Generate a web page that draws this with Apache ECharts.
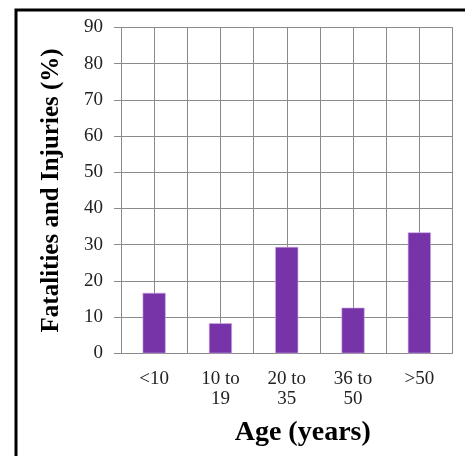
<!DOCTYPE html>
<html>
<head>
<meta charset="utf-8">
<script src="https://cdn.jsdelivr.net/npm/echarts@6/dist/echarts.min.js"></script>
<style>
  html, body { margin: 0; padding: 0; background: #fff; }
  #chart { width: 465px; height: 456px; }
</style>
</head>
<body>
<div id="chart"></div>
<script>
  // age groups and share of fatalities/injuries (%)
  var ageGroups = ['<10', '10 to\n19', '20 to\n35', '36 to\n50', '>50']
  var percents = [16.7, 8.3, 29.4, 12.6, 33.4]
  var yTicks = [0, 10, 20, 30, 40, 50, 60, 70, 80, 90]

  var chart = echarts.init(document.getElementById('chart'))
  var serif = '"Liberation Serif", "DejaVu Serif", serif'
  var gridColor = '#8a8a8a'

  var option = {
    backgroundColor: '#fff',
    animation: false,
    grid: { left: 121, right: 12.5, top: 27.5, bottom: 102.7 },
    // outer frame (left + top only, like the cropped figure)
    graphic: [{
      type: 'polyline',
      shape: { points: [[16, 456], [16, 10], [465, 10]] },
      style: { stroke: '#000', lineWidth: 3, fill: null }
    }],
    xAxis: [{
      type: 'category',
      data: ageGroups,
      boundaryGap: true,
      name: 'Age (years)',
      nameLocation: 'middle',
      nameGap: 65,
      nameTextStyle: { fontFamily: serif, fontWeight: 'bold', fontSize: 28, color: '#000', padding: [0, 0, 0, 32] },
      axisLine: { show: true, lineStyle: { color: gridColor } },
      axisTick: { show: false },
      axisLabel: { fontFamily: serif, fontSize: 19, color: '#222', margin: 16, lineHeight: 20 },
      splitLine: { show: true, lineStyle: { color: gridColor, width: 1 } }
    }, {
      // helper axis for the extra vertical gridlines through category centres
      type: 'value',
      min: 0,
      max: 10,
      interval: 1,
      position: 'bottom',
      axisLine: { show: false },
      axisTick: { show: false },
      axisLabel: { show: false },
      splitLine: { show: true, lineStyle: { color: gridColor, width: 1 } }
    }],
    yAxis: {
      type: 'value',
      min: yTicks[0],
      max: yTicks[yTicks.length - 1],
      interval: 10,
      name: 'Fatalities and Injuries (%)',
      nameLocation: 'middle',
      nameGap: 57,
      nameTextStyle: { fontFamily: serif, fontWeight: 'bold', fontSize: 25, color: '#000' },
      axisLine: { show: true, lineStyle: { color: gridColor } },
      axisTick: { show: true, length: 7, lineStyle: { color: gridColor } },
      axisLabel: { fontFamily: serif, fontSize: 19, color: '#222', margin: 18 },
      splitLine: { show: true, lineStyle: { color: gridColor, width: 1 } }
    },
    series: [{
      type: 'bar',
      data: percents,
      xAxisIndex: 0,
      barWidth: 23,
      itemStyle: {
        color: '#7733a8',
        borderColor: '#c9a6e4',
        borderWidth: 0.6
      }
    }]
  }
  chart.setOption(option)
</script>
</body>
</html>
